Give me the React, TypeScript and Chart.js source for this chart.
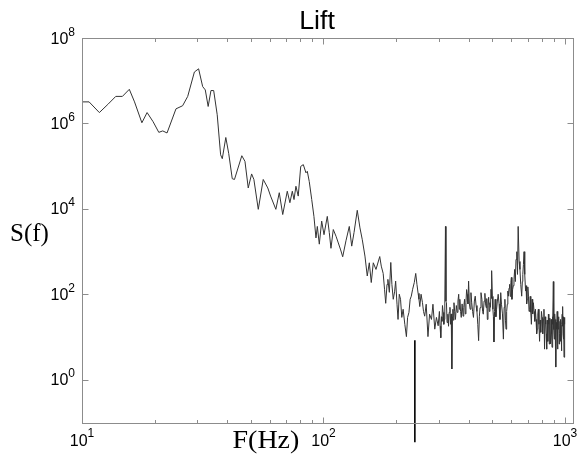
import React, { useEffect, useRef } from "react";
import { Chart, registerables } from "chart.js";

Chart.register(...registerables);

// ---- data ----
const freqHz: number[] = [
  10, 10.7, 11.8, 12.8, 13.8, 14.7, 15.7, 16.5, 17.7, 18.6, 19.7, 20.8, 21.6, 22.5, 24.5, 26.1, 27.4, 29.2, 30.4, 31.6,
  32.4, 33.3, 34.2, 35.1, 36.3, 37.5, 38.1, 39.4, 40.5, 41.9, 42.8, 45.9, 47.3, 48.8, 50.4, 51.5, 53.7, 56.3, 58.8, 60.4,
  63.5, 65.6, 67.8, 70.8, 72.6,
  74.3, 75.5, 76.9, 78.6, 80.5, 82.5, 84.6, 85.7, 87.3, 89.4, 91.3, 93.1, 94.3, 96.1, 98.3, 100.5, 103.7, 105.7, 107.4,
  109.8, 112.7, 115.2, 117.8, 120.1, 123.9, 127.9, 130.9, 133.8, 138, 141.6, 144.8, 148.5, 151.8, 154.8, 157.7, 160.8, 165,
  171, 173.5, 176.7, 179, 181, 183.3, 184.8, 187.4, 190, 192, 194.5, 197, 199, 201.6, 203.6, 206, 208.5, 211, 213.7,
  217.2, 220.5, 223, 225.9, 228.5, 231, 234, 237.7, 241, 243.8, 246.5, 248.6, 250.5, 253.6, 257, 259.6, 262.5, 266.3,
  270.8, 275, 280, 284, 289, 293.6, 298.5,
  302, 304, 306, 308, 309.5, 311, 313, 315, 316.5, 318, 320, 321.5, 323, 325, 327.5, 329.5, 331.5, 334, 336, 338, 340,
  342, 343.5, 345, 347, 349.5, 352, 355, 358, 360.5, 363, 365, 367, 369.5, 372, 375, 378.5, 381, 384, 386.5, 389, 391.5,
  394, 396.5, 399, 402, 405, 408, 411, 414.5, 418, 421.5, 425, 428.5, 432, 435.5, 439, 442, 445, 449, 453, 456, 459,
  462.5, 466, 469, 472, 474.5, 477, 480, 483, 486, 489, 491.5, 494, 496, 498, 500.5, 503, 505.5, 508, 511, 514, 517.5,
  521, 525, 529, 533.5, 538, 542, 546, 551, 556, 560, 564, 567, 570, 573.5, 577, 580, 583, 586.5, 590, 593.5, 597, 600,
  603, 607, 611, 615, 619, 623, 627, 632, 636, 640, 646, 651, 656, 662, 666, 669, 673, 677, 680, 683, 687, 690, 694, 698,
  702, 706, 710, 714, 718, 722, 726, 731, 735, 740, 745, 750, 754.5, 759, 763.5, 768, 772, 776, 780.5, 785, 789.5, 794,
  799, 804, 809, 814, 818.5, 823, 827.5, 832, 836, 840, 843.5, 847, 850.5, 854, 857.5, 861, 864, 867, 871.5, 876, 880,
  884, 887.5, 891, 895, 899, 903, 906.5, 910, 914, 918, 921.5, 925, 928.5, 932, 935, 938, 942, 946, 950, 954, 957, 960,
  963.5, 967, 970.5, 974, 977, 979, 982, 985, 988, 991, 993.5, 996, 998, 1000,
];

const psdLift: number[] = [
  3.2e6, 3.2e6, 1.8e6, 2.8e6, 4.3e6, 4.3e6, 6.3e6, 3.2e6, 1.04e6, 1.8e6, 1.1e6, 6.2e5, 6.7e5, 6.0e5, 2.2e6, 2.6e6, 4.3e6,
  1.6e7, 1.9e7, 7.3e6, 6.1e6, 2.5e6, 5.9e6, 5.9e6, 1.6e6, 1.85e5, 1.5e5, 4.7e5, 2.0e5, 5.1e4, 4.9e4, 1.76e5, 1.3e5, 3.1e4,
  6.6e4, 4.9e4, 9.8e3, 4.9e4, 3.1e4, 2.0e4, 9.8e3, 2.4e4, 7.4e3, 2.6e4, 1.4e4,
  2.6e4, 1.66e4, 3.4e4, 2.0e4, 9.9e4, 1.09e5, 7.0e4, 7.6e4, 4.4e4, 1.66e4, 6.7e3, 2.1e3, 3.9e3, 1.5e3, 5.2e3, 2.5e3,
  6.7e3, 2.8e3, 1.2e3, 3.3e3, 2.3e3, 1.6e3, 1.1e3, 760, 1.8e3, 3.9e3, 1.35e3, 2.8e3, 9.3e3, 3.6e3, 1.9e3, 790, 270, 550,
  190, 550, 385,
  770, 460, 310, 132, 62, 172, 225, 112, 560, 172, 77, 115, 205, 59, 26, 101, 77, 29, 45,
  20, 10.3, 29, 38, 77, 91, 132, 190, 310, 172, 106, 77, 52, 101, 64, 40, 31, 59,
  10.3, 34.5, 26, 59, 15.4, 29, 18.5,
  40, 18, 9.7, 30, 23.5, 55, 38, 20, 26, 60, 3900, 70, 64, 22, 34.5, 18, 38, 50, 20, 35, 1.8,
  30, 45, 25, 64, 40, 26, 55, 38, 70, 101, 45, 77, 40, 29, 60, 31, 50, 77, 35, 64, 130,
  101, 60, 205, 60, 45, 110, 64, 40, 29, 70, 91, 55, 40, 20, 8.3, 30, 49, 110, 77, 40, 34.5,
  70, 106, 60, 49, 80, 26, 55, 86, 40, 64, 50, 132, 80, 360, 90, 45, 30, 7.7, 40, 77, 30,
  45, 70, 101, 60, 26, 110, 59, 35, 9.0, 50, 77, 25, 15.4, 40, 59, 120, 91, 140, 172, 90, 190, 250,
  77, 130, 160, 220, 385, 200, 660, 1000, 294, 3900, 590, 385, 172, 91, 200, 294, 500, 1000, 400, 294, 120, 160, 60, 77,
  150, 91, 40, 45, 90, 38, 20, 77, 35, 64, 40, 23.5, 45, 26, 12, 15.4, 35, 45, 20, 8, 25, 13,
  40, 29, 12, 26, 45, 5.25, 30, 20, 12, 5.25, 25, 15.4, 8, 34.5, 20, 6.9, 28, 15.4, 7, 26, 12,
  5.8, 30, 20, 200, 15, 9.0, 35, 26, 8, 2.0, 22, 15.4, 40, 5.25, 18, 15.4, 30, 6.9, 12, 23.5, 8, 26,
  15, 4.8, 20, 34.5, 18, 52, 12, 9.0, 30, 3.4, 16, 29, 9, 20,
];

const markerFreq: number[] = [239, 239];
const markerPsd: number[] = [8.5, 0.035];

const xMajorTicks: number[] = [10, 100, 1000];
const xMajorExp: string[] = ["1", "2", "3"];
const xMinorTicks: number[] = [20, 30, 40, 50, 60, 70, 80, 90, 200, 300, 400, 500, 600, 700, 800, 900];
const yTicks: number[] = [1, 100, 1e4, 1e6, 1e8];
const yTickExp: string[] = ["0", "2", "4", "6", "8"];

const titleText = "Lift";
const xLabel = "F(Hz)";
const yLabel = "S(f)";

const SANS = "'Liberation Sans', Arial, sans-serif";
const SERIF = "'Liberation Serif', 'Times New Roman', serif";

const decorPlugin = {
  id: "matlabDecor",
  afterDatasetsDraw(chart: any) {
    const { ctx, chartArea: a, scales } = chart;
    const xs = scales.x;
    const ys = scales.y;
    const L = Math.round(a.left) + 0.5;
    const R = Math.round(a.right) - 0.5;
    const T = Math.round(a.top) + 0.5;
    const B = Math.round(a.bottom) - 0.5;
    ctx.save();
    ctx.strokeStyle = "#8c8c8c";
    ctx.lineWidth = 1;
    ctx.strokeRect(L, T, R - L, B - T);
    ctx.beginPath();
    const xt = (v: number, len: number) => {
      const px = Math.round(xs.getPixelForValue(v)) + 0.5;
      ctx.moveTo(px, B);
      ctx.lineTo(px, B - len);
      ctx.moveTo(px, T);
      ctx.lineTo(px, T + len);
    };
    xMajorTicks.forEach((v) => xt(v, 6));
    xMinorTicks.forEach((v) => xt(v, 3.5));
    yTicks.forEach((v) => {
      const py = Math.round(ys.getPixelForValue(v)) + 0.5;
      ctx.moveTo(L, py);
      ctx.lineTo(L + 6, py);
      ctx.moveTo(R, py);
      ctx.lineTo(R - 6, py);
    });
    ctx.stroke();

    ctx.fillStyle = "#000";
    ctx.textAlign = "left";
    ctx.textBaseline = "alphabetic";
    // x tick labels
    xMajorTicks.forEach((v, i) => {
      const cx = xs.getPixelForValue(v);
      ctx.font = `16px ${SANS}`;
      const w10 = ctx.measureText("10").width;
      ctx.font = `12px ${SANS}`;
      const ws = ctx.measureText(xMajorExp[i]).width;
      const x0 = cx - (w10 + ws) / 2;
      ctx.font = `16px ${SANS}`;
      ctx.fillText("10", x0, a.bottom + 22);
      ctx.font = `12px ${SANS}`;
      ctx.fillText(xMajorExp[i], x0 + w10, a.bottom + 13);
    });
    // y tick labels
    yTicks.forEach((v, i) => {
      const cy = ys.getPixelForValue(v);
      ctx.font = `12px ${SANS}`;
      const ws = ctx.measureText(yTickExp[i]).width;
      ctx.font = `16px ${SANS}`;
      const w10 = ctx.measureText("10").width;
      const right = a.left - 7;
      ctx.fillText("10", right - ws - w10, cy + 5.5);
      ctx.font = `12px ${SANS}`;
      ctx.fillText(yTickExp[i], right - ws, cy - 2.5);
    });
    // title
    ctx.save();
    ctx.font = `25px ${SANS}`;
    const tw = ctx.measureText(titleText).width * 1.07;
    ctx.translate(317 - tw / 2, 29);
    ctx.scale(1.07, 1);
    ctx.fillText(titleText, 0, 0);
    ctx.restore();
    // axis labels
    ctx.font = `25px ${SERIF}`;
    ctx.fillText(yLabel, 10, 241);
    ctx.save();
    ctx.translate(232.5, 448);
    ctx.scale(1.12, 1);
    ctx.fillText(xLabel, 0, 0);
    ctx.restore();
    ctx.restore();
  },
};

export default function App() {
  const ref = useRef<HTMLCanvasElement | null>(null);
  useEffect(() => {
    if (!ref.current) return;
    const chart = new Chart(ref.current, {
      type: "line",
      data: {
        datasets: [
          {
            data: freqHz.map((f, i) => ({ x: f, y: psdLift[i] })),
            borderColor: "#333333",
            borderWidth: 1,
            pointRadius: 0,
            tension: 0,
          },
          {
            data: markerFreq.map((f, i) => ({ x: f, y: markerPsd[i] })),
            borderColor: "#000000",
            borderWidth: 1.6,
            pointRadius: 0,
            tension: 0,
            clip: false,
          } as any,
        ],
      },
      options: {
        responsive: false,
        animation: false,
        events: [],
        layout: { padding: { left: 82, top: 38, right: 4, bottom: 30 } },
        plugins: {
          legend: { display: false },
          tooltip: { enabled: false },
          title: { display: false },
        },
        scales: {
          x: { type: "logarithmic", min: 10, max: 1090, display: false },
          y: { type: "logarithmic", min: 0.093, max: 1e8, display: false },
        },
      },
      plugins: [decorPlugin],
    });
    return () => chart.destroy();
  }, []);
  return (
    <div style={{ position: "absolute", left: 0, top: 0, width: 578, height: 454, background: "#fff" }}>
      <canvas ref={ref} width={578} height={454} style={{ display: "block" }} />
    </div>
  );
}
